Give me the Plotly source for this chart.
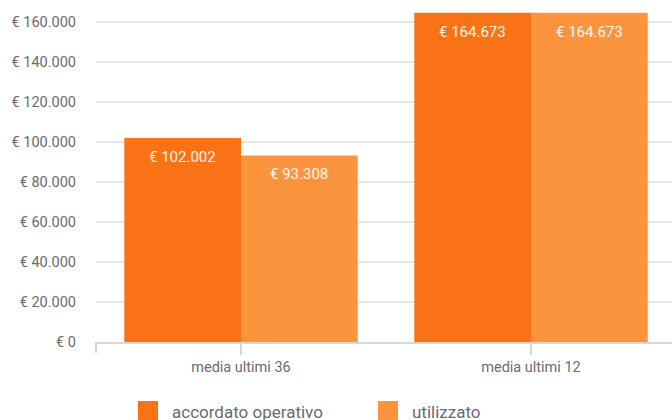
import plotly.graph_objects as go

# Data
categories = ["media ultimi 36", "media ultimi 12"]
series_names = ["accordato operativo", "utilizzato"]
accordato = [102002, 164673]
utilizzato = [93308, 164673]
colors = ["#F97316", "#FB943D"]
y_ticks = [0, 20000, 40000, 60000, 80000, 100000, 120000, 140000, 160000]

W, H = 672, 420
L, R, T, B = 96, 0, 12, 78
plot_w = W - L - R
plot_h = H - T - B
cat_px = 290  # pixel width of one category slot


def euro(v):
    return "€ " + f"{v:,}".replace(",", ".")


fig = go.Figure()
for name, vals, col in zip(series_names, [accordato, utilizzato], colors):
    fig.add_trace(go.Bar(
        x=categories, y=vals, name=name, marker=dict(color=col, line=dict(width=0)),
        showlegend=False, hoverinfo="skip",
    ))

# value labels inside the top of each bar
bargap = 0.195
bw = (1 - bargap) / 2
annotations = []
for k, vals in enumerate([accordato, utilizzato]):
    offset = -bw / 2 if k == 0 else bw / 2
    for i, v in enumerate(vals):
        annotations.append(dict(
            x=i + offset, y=v, xref="x", yref="y", text=euro(v), showarrow=False,
            yanchor="middle", yshift=-19,
            font=dict(family="Roboto", size=15, color="#FFF6EE"),
        ))

# custom legend below the chart
def px_x(px):
    return (px - L) / plot_w


def px_y(py):
    return (H - B - py) / plot_h


shapes = []
legend_items = [(138, 170), (378, 410)]
for (sx, tx), name, col in zip(legend_items, series_names, colors):
    shapes.append(dict(type="rect", xref="paper", yref="paper",
                       x0=px_x(sx), x1=px_x(sx + 20), y0=px_y(401), y1=px_y(422),
                       fillcolor=col, line=dict(width=0)))
    annotations.append(dict(x=px_x(tx), y=px_y(412), xref="paper", yref="paper",
                            text=name, showarrow=False, xanchor="left", yanchor="middle",
                            font=dict(family="Roboto", size=17, color="#6B6B6B")))

# tick at the left end of the category axis
shapes.append(dict(type="line", xref="paper", yref="paper", x0=0, x1=0,
                   y0=0, y1=px_y(353), line=dict(color="#D6D6D6", width=2)))

fig.update_layout(
    width=W, height=H,
    margin=dict(l=L, r=R, t=T, b=B),
    paper_bgcolor="white", plot_bgcolor="white",
    barmode="group", bargap=bargap, bargroupgap=0,
    separators=",.",
    font=dict(family="Roboto", color="#6B6B6B", size=14.5),
    annotations=annotations,
    shapes=shapes,
    xaxis=dict(
        type="category", range=[-0.5, -0.5 + plot_w / cat_px],
        showline=True, linecolor="#D6D6D6", linewidth=2,
        ticks="outside", ticklen=11, tickcolor="#D6D6D6", tickwidth=2,
        showgrid=False, zeroline=False,
        tickfont=dict(family="Roboto", size=14.5, color="#6B6B6B"),
    ),
    yaxis=dict(
        range=[0, 165000], tickvals=y_ticks, ticktext=[euro(v) for v in y_ticks],
        showgrid=True, gridcolor="#E6E6E6", gridwidth=2,
        zeroline=False, showline=False, ticks="", ticklabelstandoff=19,
        tickfont=dict(family="Roboto", size=14.5, color="#6B6B6B"),
    ),
)

fig.write_html("out.html")
